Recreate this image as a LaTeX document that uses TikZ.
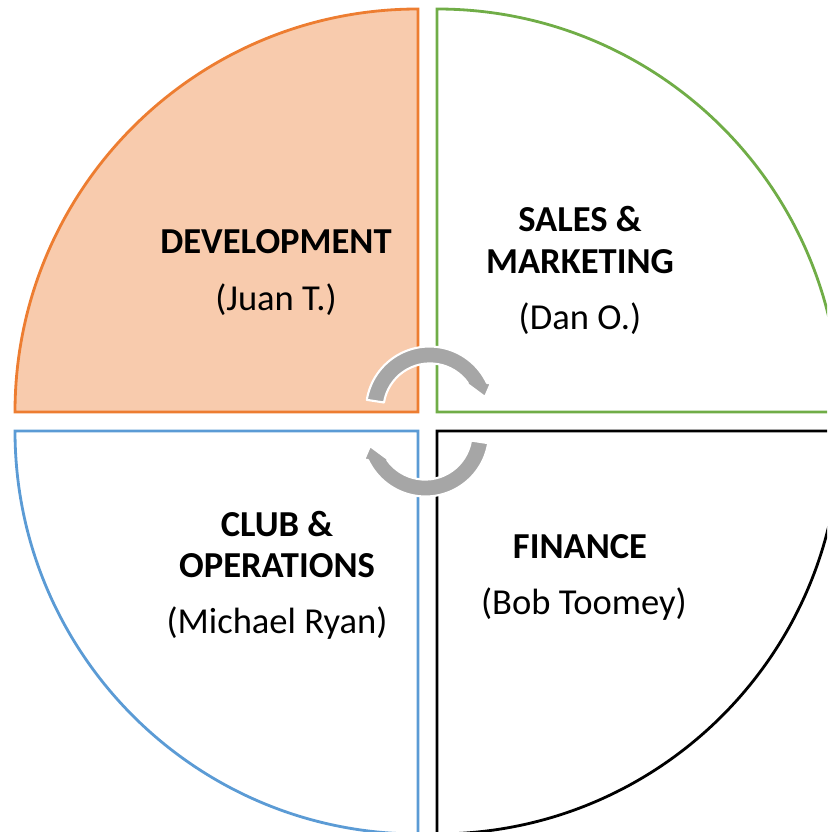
\documentclass[tikz,border=0pt]{standalone}
\usepackage{fontspec}
\setmainfont{Carlito}
\usepackage{xcolor}
\usetikzlibrary{positioning}

\definecolor{dev-fill}{HTML}{F8CBAD}
\definecolor{dev-line}{HTML}{ED7D31}
\definecolor{sales-line}{HTML}{70AD47}
\definecolor{club-line}{HTML}{5B9BD5}
\definecolor{cycle-gray}{HTML}{A6A6A6}

\begin{document}
\begin{tikzpicture}
[
x=0.025cm, y=-0.025cm,
quad/.style={line width=2pt, line join=miter},
text-title/.style={font=\fontsize{26}{30}\selectfont\bfseries, inner sep=0pt, anchor=base},
text-name/.style={font=\fontsize{26}{30}\selectfont, inner sep=0pt},
cycle-arrow/.style={fill=cycle-gray, draw=white, line width=1.5pt, line join=round}
]

\useasboundingbox (0,0) rectangle (827,832);
\clip (0,0) rectangle (827,832);

% quadrants
\draw [quad, draw=dev-line, fill=dev-fill] (418,412) -- (15,412) arc[start angle=180, end angle=270, radius=403] -- cycle;
\draw [quad, draw=sales-line] (437,412) -- (437,9) arc[start angle=270, end angle=360, radius=403] -- cycle;
\draw [quad, draw=club-line] (418,431) -- (15,431) arc[start angle=180, end angle=90, radius=403] -- cycle;
\draw [quad, draw=black] (437,431) -- (840,431) arc[start angle=0, end angle=90, radius=403] -- cycle;

% cycle arrows
\path [cycle-arrow] (429.5,410) ++(-170.8:63.5) arc[start angle=-170.8, end angle=-25.2, radius=63.5]
  -- (491,383) -- (485,397) -- (466,383) -- (467.8,383)
  arc[start angle=-35.4, end angle=-170.8, radius=46.5] -- cycle;
\path [cycle-arrow] (425.5,433) ++(9.2:63.5) arc[start angle=9.2, end angle=154.8, radius=63.5]
  -- (364,460) -- (370,446) -- (389,460) -- (387.2,460)
  arc[start angle=144.6, end angle=9.2, radius=46.5] -- cycle;

% labels
\node (dev-title)    [text-title] at (276,254) {DEVELOPMENT};
\node (dev-name)     [text-name, below = 1.4cm of dev-title.base, anchor=base] {(Juan T.)};
\node (sales-title)  [text-title] at (580,232) {SALES \&};
\node (sales-title2) [text-title, below = 1.025cm of sales-title.base, anchor=base] {MARKETING};
\node (sales-name)   [text-name, below = 1.4cm of sales-title2.base, anchor=base] {(Dan O.)};
\node (club-title)   [text-title] at (277,536) {CLUB \&};
\node (club-title2)  [text-title, below = 1.025cm of club-title.base, anchor=base] {OPERATIONS};
\node (club-name)    [text-name, below = 1.4cm of club-title2.base, anchor=base] {(Michael Ryan)};
\node (fin-title)    [text-title] at (580,558) {FINANCE};
\node (fin-name)     [text-name, below = 1.4cm of fin-title.base, anchor=base, xshift=2.8pt] {(Bob Toomey)};

\end{tikzpicture}
\end{document}
